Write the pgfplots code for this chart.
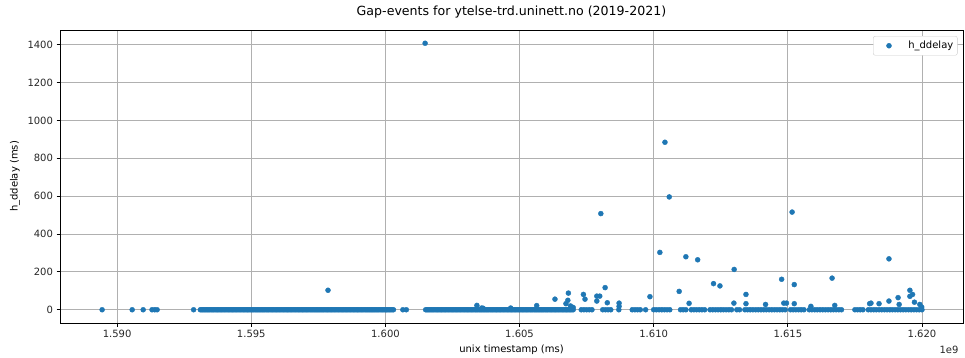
\documentclass[border=0pt]{standalone}
\usepackage{pgfplots}
\pgfplotsset{compat=1.18}
\usepackage{fontspec}
\setmainfont{DejaVu Sans}
\definecolor{cZero}{HTML}{1F77B4}
\definecolor{gridc}{HTML}{B0B0B0}
\begin{document}
\begin{tikzpicture}
\begin{axis}[
  name=ax,
  scale only axis,
  width=903pt, height=293pt,
  xmin=1.58787, xmax=1.62153,
  ymin=-70, ymax=1478,
  xtick={1.590,1.595,1.600,1.605,1.610,1.615,1.620},
  ytick={0,200,400,600,800,1000,1200,1400},
  scaled x ticks=false,
  xticklabel style={/pgf/number format/.cd, fixed, fixed zerofill, precision=3},
  /pgf/number format/1000 sep={},
  /pgf/number format/assume math mode=true,
  tick label style={font=\fontsize{10}{12}\selectfont, text=black!85},
  grid=major,
  major grid style={color=gridc, line width=0.8pt},
  axis line style={line width=0.8pt},
  tick align=outside,
  major tick length=3.5pt,
  tick style={black, line width=0.8pt},
  xtick pos=left, ytick pos=left,
  title={Gap-events for ytelse-trd.uninett.no (2019-2021)},
  title style={font=\fontsize{12.6}{14}\selectfont, at={(axis description cs:0.5,1.041)}, anchor=center},
  xlabel={unix timestamp (ms)},
  xlabel style={font=\fontsize{10}{12}\selectfont, at={(axis description cs:0.5,-0.0922)}, anchor=center},
  ylabel={h\_ddelay (ms)},
  ylabel style={font=\fontsize{10}{12}\selectfont, at={(axis description cs:-0.0498,0.5)}, anchor=center},
  legend style={at={(1,1)}, anchor=north east, xshift=-5.5pt, yshift=-6pt,
    draw=black!20, rounded corners=2pt, fill=white, font=\fontsize{10}{12}\selectfont,
    inner xsep=2pt, inner ysep=1pt,
    nodes={inner xsep=2pt, inner ysep=4pt}},
  legend image code/.code={\path[draw=none,fill=none] (0pt,-3pt) rectangle (31pt,3pt); \draw[#1] plot coordinates {(13.7pt,0pt)};},
  legend cell align=left,
]
\addplot[only marks, mark=*, mark size=2.5pt, color=cZero, mark options={draw=none, fill=cZero}] coordinates {
(1.58944,0) (1.59056,0) (1.59097,0) (1.59130,0) (1.59140,0) (1.59149,0) (1.59285,0)
(1.5931,0) (1.5932,0) (1.5933,0) (1.5934,0) (1.5935,0) (1.5936,0) (1.5937,0) (1.5938,0) (1.5939,0)
(1.5940,0) (1.5941,0) (1.5942,0) (1.5943,0) (1.5944,0) (1.5945,0) (1.5946,0) (1.5947,0) (1.5948,0) (1.5949,0)
(1.5950,0) (1.5951,0) (1.5952,0) (1.5953,0) (1.5954,0) (1.5955,0) (1.5956,0) (1.5957,0) (1.5958,0) (1.5959,0)
(1.5960,0) (1.5961,0) (1.5962,0) (1.5963,0) (1.5964,0) (1.5965,0) (1.5966,0) (1.5967,0) (1.5968,0) (1.5969,0)
(1.5970,0) (1.5971,0) (1.5972,0) (1.5973,0) (1.5974,0) (1.5975,0) (1.5976,0) (1.5977,0) (1.5978,0) (1.5979,0)
(1.5980,0) (1.5981,0) (1.5982,0) (1.5983,0) (1.5984,0) (1.5985,0) (1.5986,0) (1.5987,0) (1.5988,0) (1.5989,0)
(1.5990,0) (1.5991,0) (1.5992,0) (1.5993,0) (1.5994,0) (1.5995,0) (1.5996,0) (1.5997,0) (1.5998,0) (1.5999,0)
(1.6000,0) (1.6001,0) (1.6002,0) (1.6003,0)
(1.59315,0) (1.59325,0) (1.59335,0) (1.59345,0) (1.59355,0) (1.59365,0) (1.59375,0) (1.59385,0) (1.59395,0)
(1.59405,0) (1.59415,0) (1.59425,0) (1.59435,0) (1.59445,0) (1.59455,0) (1.59465,0) (1.59475,0) (1.59485,0) (1.59495,0)
(1.59505,0) (1.59515,0) (1.59525,0) (1.59535,0) (1.59545,0) (1.59555,0) (1.59565,0) (1.59575,0) (1.59585,0) (1.59595,0)
(1.59605,0) (1.59615,0) (1.59625,0) (1.59635,0) (1.59645,0) (1.59655,0) (1.59665,0) (1.59675,0) (1.59685,0) (1.59695,0)
(1.59705,0) (1.59715,0) (1.59725,0) (1.59735,0) (1.59745,0) (1.59755,0) (1.59765,0) (1.59775,0) (1.59785,0) (1.59795,0)
(1.59805,0) (1.59815,0) (1.59825,0) (1.59835,0) (1.59845,0) (1.59855,0) (1.59865,0) (1.59875,0) (1.59885,0) (1.59895,0)
(1.59905,0) (1.59915,0) (1.59925,0) (1.59935,0) (1.59945,0) (1.59955,0) (1.59965,0) (1.59975,0) (1.59985,0) (1.59995,0)
(1.60005,0) (1.60015,0) (1.60025,0)
(1.59786,103)
(1.60065,0) (1.60078,0)
(1.60148,1408)
(1.6015,0) (1.6016,0) (1.6017,0) (1.6018,0) (1.6019,0)
(1.6020,0) (1.6021,0) (1.6022,0) (1.6023,0) (1.6024,0) (1.6025,0) (1.6026,0) (1.6027,0) (1.6028,0) (1.6029,0)
(1.6030,0) (1.6031,0) (1.6032,0) (1.6033,0) (1.6034,0) (1.6035,0) (1.6036,0) (1.6037,0) (1.6038,0) (1.6039,0)
(1.6040,0) (1.6041,0) (1.6042,0) (1.6043,0) (1.6044,0) (1.6045,0) (1.6046,0) (1.6047,0) (1.6048,0) (1.6049,0)
(1.6050,0) (1.6051,0) (1.6052,0) (1.6053,0) (1.6054,0) (1.6055,0) (1.6056,0) (1.6057,0) (1.6058,0) (1.6059,0)
(1.6060,0) (1.6061,0) (1.6062,0) (1.6063,0) (1.6064,0) (1.6065,0) (1.6066,0) (1.6067,0) (1.6068,0) (1.6069,0)
(1.6070,0)
(1.60155,0) (1.60165,0) (1.60175,0) (1.60185,0) (1.60195,0)
(1.60205,0) (1.60215,0) (1.60225,0) (1.60235,0) (1.60245,0) (1.60255,0) (1.60265,0) (1.60275,0) (1.60285,0) (1.60295,0)
(1.60305,0) (1.60315,0) (1.60325,0) (1.60335,0) (1.60345,0) (1.60355,0) (1.60365,0) (1.60375,0) (1.60385,0) (1.60395,0)
(1.60405,0) (1.60415,0) (1.60425,0) (1.60435,0) (1.60445,0) (1.60455,0) (1.60465,0) (1.60475,0) (1.60485,0) (1.60495,0)
(1.60505,0) (1.60515,0) (1.60525,0) (1.60535,0) (1.60545,0) (1.60555,0) (1.60565,0) (1.60575,0) (1.60585,0) (1.60595,0)
(1.60605,0) (1.60615,0) (1.60625,0) (1.60635,0) (1.60645,0) (1.60655,0) (1.60665,0) (1.60675,0) (1.60685,0) (1.60695,0)
(1.6073,0) (1.6074,0) (1.6075,0) (1.6076,0) (1.6077,0)
(1.6081,0) (1.6082,0) (1.6083,0) (1.6084,0)
(1.6087,0)
(1.6092,0) (1.6093,0) (1.6094,0) (1.6095,0)
(1.6097,0)
(1.6100,0) (1.6101,0) (1.6102,0) (1.6103,0) (1.6104,0) (1.6105,0) (1.6106,0)
(1.6110,0) (1.6111,0) (1.6112,0)
(1.6114,0) (1.6115,0) (1.6116,0) (1.6117,0) (1.6118,0) (1.6119,0)
(1.6121,0) (1.6122,0) (1.6123,0) (1.6124,0)
(1.6125,0) (1.6126,0) (1.6127,0) (1.6128,0) (1.6129,0)
(1.6131,0) (1.6132,0)
(1.6134,0) (1.6135,0) (1.6136,0) (1.6137,0) (1.6138,0) (1.6139,0) (1.6140,0) (1.6141,0)
(1.6142,0) (1.6143,0) (1.6144,0) (1.6145,0) (1.6146,0) (1.6147,0) (1.6148,0) (1.6149,0)
(1.6151,0) (1.6152,0) (1.6153,0) (1.6154,0) (1.6155,0) (1.6156,0)
(1.6158,0) (1.6159,0) (1.6160,0) (1.6161,0) (1.6162,0) (1.6163,0) (1.6164,0) (1.6165,0)
(1.6166,0) (1.6167,0) (1.6168,0) (1.6169,0) (1.6170,0)
(1.6175,0) (1.6176,0) (1.6177,0) (1.6178,0)
(1.6180,0) (1.6181,0) (1.6182,0) (1.6183,0) (1.6184,0) (1.6185,0) (1.6186,0) (1.6187,0)
(1.6188,0) (1.6189,0) (1.6190,0) (1.6191,0) (1.6192,0) (1.6193,0) (1.6194,0) (1.6195,0)
(1.6196,0) (1.6197,0) (1.6198,0) (1.6199,0) (1.6200,0)
(1.60341,23) (1.60359,9) (1.60364,8) (1.60467,9) (1.60564,22)
(1.60632,56) (1.60682,88) (1.60680,50) (1.60673,32) (1.60690,20) (1.60700,12)
(1.60738,81) (1.60744,56) (1.60788,72) (1.60799,72) (1.60788,46)
(1.60803,508) (1.60819,117) (1.60827,37) (1.60871,35) (1.60871,18)
(1.60986,69) (1.61023,303) (1.61042,885) (1.61058,596) (1.61095,97) (1.61120,280)
(1.61132,34) (1.61164,264) (1.61223,138) (1.61247,126) (1.61300,213)
(1.61299,35) (1.61344,81) (1.61344,32) (1.61417,28)
(1.61477,161) (1.61485,35) (1.61495,35) (1.61524,133) (1.61524,32) (1.61516,516)
(1.61586,18) (1.61665,167) (1.61675,23)
(1.61805,32) (1.61810,35) (1.61840,32)
(1.61877,269) (1.61877,46) (1.61911,64) (1.61915,28)
(1.61955,103) (1.61965,81) (1.61955,71) (1.61972,40) (1.61992,28) (1.61999,14)
};
\addlegendentry{h\_ddelay}
\end{axis}
\node[anchor=east, font=\fontsize{10}{12}\selectfont, text=black!85] at ([xshift=-1pt,yshift=-27pt]ax.south east) {1e9};
\pgfresetboundingbox
\path ([xshift=-60pt,yshift=-34pt]ax.south west) rectangle ([xshift=2pt,yshift=30pt]ax.north east);
\end{tikzpicture}
\end{document}
